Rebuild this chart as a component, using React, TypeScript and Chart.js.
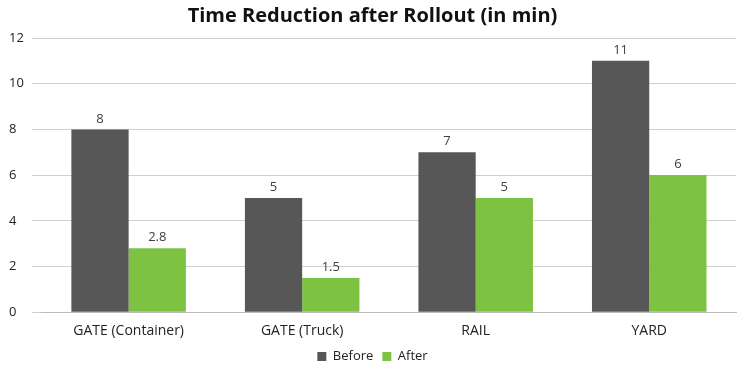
import React, { useEffect, useRef } from "react";
import { Chart, registerables } from "chart.js";

Chart.register(...registerables);

const categories = ["GATE (Container)", "GATE (Truck)", "RAIL", "YARD"];
const beforeValues = [8, 5, 7, 11];
const afterValues = [2.8, 1.5, 5, 6];
const yTicks = [0, 2, 4, 6, 8, 10, 12];

const valueLabels = {
  id: "valueLabels",
  afterDatasetsDraw(chart: any) {
    const ctx = chart.ctx;
    ctx.save();
    ctx.font = "13px 'Open Sans'";
    ctx.fillStyle = "#404040";
    ctx.textAlign = "center";
    ctx.textBaseline = "bottom";
    chart.data.datasets.forEach((ds: any, i: number) => {
      const meta = chart.getDatasetMeta(i);
      meta.data.forEach((bar: any, j: number) => {
        ctx.fillText(String(ds.data[j]), bar.x, bar.y - 4);
      });
    });
    ctx.restore();
  },
};

export default function App() {
  const ref = useRef<HTMLCanvasElement>(null);
  useEffect(() => {
    document.body.style.margin = "0";
    const chart = new Chart(ref.current!, {
      type: "bar",
      data: {
        labels: categories,
        datasets: [
          { label: "Before", data: beforeValues, backgroundColor: "#575757" },
          { label: "After", data: afterValues, backgroundColor: "#7DC242" },
        ],
      },
      options: {
        animation: false,
        responsive: false,
        layout: { padding: { left: 9, right: 14, top: 2, bottom: 2 } },
        datasets: { bar: { categoryPercentage: 0.66, barPercentage: 1 } },
        plugins: {
          title: {
            display: true,
            text: "Time Reduction after Rollout (in min)",
            font: { family: "'Open Sans'", size: 20, weight: "bold" },
            color: "#111",
            padding: { top: 2, bottom: 10 },
          },
          legend: {
            position: "bottom",
            labels: {
              boxWidth: 9,
              boxHeight: 9,
              padding: 9,
              font: { family: "'Open Sans'", size: 13 },
              color: "#222",
            },
          },
          tooltip: { enabled: false },
        },
        scales: {
          x: {
            grid: { display: false },
            border: { color: "#bbbbbb" },
            ticks: { font: { family: "'Open Sans'", size: 14 }, color: "#222", padding: 2 },
          },
          y: {
            min: 0,
            max: 12,
            afterBuildTicks: (axis: any) => {
              axis.ticks = yTicks.map((v) => ({ value: v }));
            },
            grid: { color: "#d0d0d0", tickLength: 10 },
            border: { display: false },
            ticks: {
              font: { family: "'Open Sans'", size: 13 },
              color: "#222",
              crossAlign: "far",
              padding: 4,
            },
          },
        },
      },
      plugins: [valueLabels],
    });
    return () => chart.destroy();
  }, []);
  return <canvas ref={ref} width={750} height={375} />;
}
